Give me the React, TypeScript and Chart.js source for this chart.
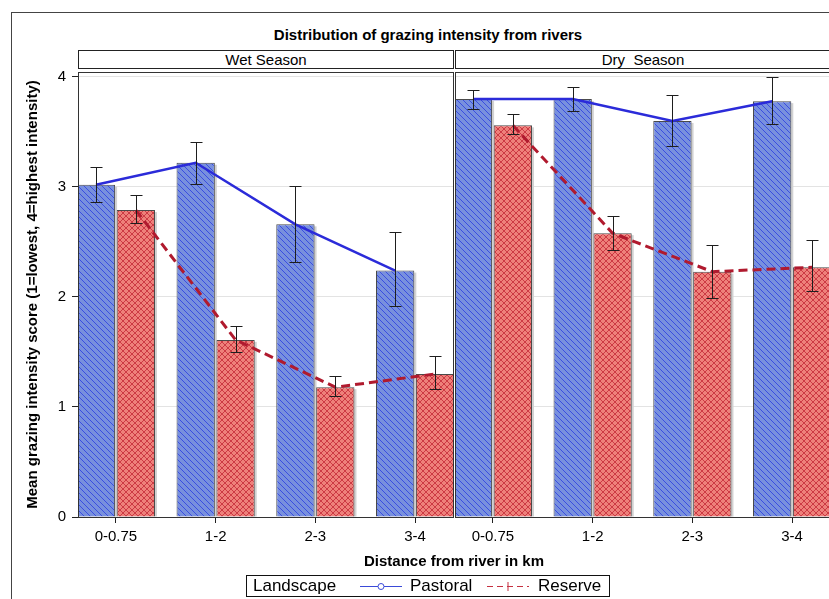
import React, { useEffect, useRef } from "react";
import { Chart, registerables } from "chart.js";

Chart.register(...registerables);

// ---------- data ----------
const categories = ["0-0.75", "1-2", "2-3", "3-4"];
const yTicks = [0, 1, 2, 3, 4];
const yMax = 4.045;

const wetPastoral = [3.02, 3.22, 2.66, 2.24];
const wetPastoralLow = [2.86, 3.03, 2.32, 1.92];
const wetPastoralHigh = [3.18, 3.41, 3.01, 2.59];
const wetReserve = [2.79, 1.61, 1.18, 1.3];
const wetReserveLow = [2.67, 1.5, 1.1, 1.16];
const wetReserveHigh = [2.93, 1.74, 1.28, 1.46];

const dryPastoral = [3.8, 3.8, 3.6, 3.78];
const dryPastoralLow = [3.71, 3.69, 3.37, 3.57];
const dryPastoralHigh = [3.88, 3.91, 3.84, 4.0];
const dryReserve = [3.56, 2.58, 2.23, 2.27];
const dryReserveLow = [3.48, 2.43, 1.99, 2.05];
const dryReserveHigh = [3.66, 2.74, 2.47, 2.52];

const titleText = "Distribution of grazing intensity from rivers";
const wetLabel = "Wet Season";
const dryLabel = "Dry  Season";
const xTitle = "Distance from river in km";
const yTitle = "Mean grazing intensity score (1=lowest, 4=highest intensity)";
const legendTitle = "Landscape";
const seriesNames = ["Pastoral", "Reserve"];

// ---------- styling ----------
const FONT = "'Liberation Sans', Arial, Helvetica, sans-serif";
const CAT_PCT = 0.8;
const BAR_PCT = 0.96;
const X_PAD = 0.38;
const BLUE_LINE = "#2b2bd9";
const RED_LINE = "#b01a2e";

function makePattern(base: string, line: string, size: number, cross: boolean) {
  const c = document.createElement("canvas");
  c.width = size;
  c.height = size;
  const g = c.getContext("2d")!;
  g.fillStyle = base;
  g.fillRect(0, 0, size, size);
  g.strokeStyle = line;
  g.lineWidth = 1;
  g.beginPath();
  g.moveTo(-1, -1);
  g.lineTo(size + 1, size + 1);
  g.moveTo(-1, size - 1);
  g.lineTo(1, size + 1);
  g.moveTo(size - 1, -1);
  g.lineTo(size + 1, 1);
  if (cross) {
    g.moveTo(-1, size + 1);
    g.lineTo(size + 1, -1);
    g.moveTo(-1, 1);
    g.lineTo(1, -1);
    g.moveTo(size - 1, size + 1);
    g.lineTo(size + 1, size - 1);
  }
  g.stroke();
  return g.createPattern(c, "repeat")!;
}

const framePlugin = {
  id: "frame",
  afterDraw(chart: any) {
    const { ctx, chartArea: a } = chart;
    ctx.save();
    ctx.strokeStyle = "#333";
    ctx.lineWidth = 1;
    ctx.strokeRect(
      Math.round(a.left) + 0.5,
      Math.round(a.top) + 0.5,
      Math.round(a.right - a.left),
      Math.round(a.bottom - a.top)
    );
    ctx.restore();
  },
};

const shadowPlugin = {
  id: "barShadow",
  beforeDatasetsDraw(chart: any) {
    const { ctx, chartArea: a } = chart;
    ctx.save();
    ctx.beginPath();
    ctx.rect(a.left, a.top, a.right - a.left, a.bottom - a.top);
    ctx.clip();
    ctx.fillStyle = "#d2d2d2";
    chart.data.datasets.forEach((ds: any, di: number) => {
      if (ds.type === "line") return;
      const meta = chart.getDatasetMeta(di);
      meta.data.forEach((el: any) => {
        const p = el.getProps(["x", "y", "base", "width"], true);
        ctx.fillRect(p.x - p.width / 2 + 2, p.y + 2, p.width, p.base - p.y - 2);
      });
    });
    ctx.restore();
  },
};

const errorBarPlugin = {
  id: "errorBars",
  afterDatasetsDraw(chart: any, _args: any, opts: any) {
    const { ctx, chartArea: a } = chart;
    const ys = chart.scales.y;
    ctx.save();
    ctx.beginPath();
    ctx.rect(a.left, a.top - 2, a.right - a.left, a.bottom - a.top + 2);
    ctx.clip();
    ctx.strokeStyle = "#1e1e1e";
    ctx.lineWidth = 1;
    (opts.sets || []).forEach((s: any) => {
      const meta = chart.getDatasetMeta(s.datasetIndex);
      meta.data.forEach((el: any, i: number) => {
        const x = Math.round(el.x) + 0.5;
        const y1 = Math.round(ys.getPixelForValue(s.low[i])) + 0.5;
        const y2 = Math.round(ys.getPixelForValue(s.high[i])) + 0.5;
        ctx.beginPath();
        ctx.moveTo(x, y1);
        ctx.lineTo(x, y2);
        ctx.moveTo(x - 6, y1);
        ctx.lineTo(x + 6, y1);
        ctx.moveTo(x - 6, y2);
        ctx.lineTo(x + 6, y2);
        ctx.stroke();
      });
    });
    ctx.restore();
  },
};

interface PanelProps {
  pastoral: number[];
  pastoralLow: number[];
  pastoralHigh: number[];
  reserve: number[];
  reserveLow: number[];
  reserveHigh: number[];
  showY: boolean;
  left: number;
  width: number;
  padLeft: number;
  padRight: number;
}

function Panel(p: PanelProps) {
  const ref = useRef<HTMLCanvasElement | null>(null);
  useEffect(() => {
    if (!ref.current) return;
    const bluePat = makePattern("#7890de", "#3a4ee0", 6, false);
    const redPat = makePattern("#ee807a", "#cc3a44", 6, true);
    const off = CAT_PCT / 4;
    const chart = new Chart(ref.current, {
      type: "bar",
      data: {
        datasets: [
          {
            type: "line",
            label: seriesNames[0],
            data: categories.map((_, i) => ({ x: i - off, y: p.pastoral[i] })),
            borderColor: BLUE_LINE,
            borderWidth: 2.5,
            pointRadius: 0,
            fill: false,
            order: 0,
          } as any,
          {
            type: "line",
            label: seriesNames[1],
            data: categories.map((_, i) => ({ x: i + off, y: p.reserve[i] })),
            borderColor: RED_LINE,
            borderWidth: 3,
            borderDash: [9, 5],
            pointRadius: 0,
            fill: false,
            order: 0,
          } as any,
          {
            type: "bar",
            label: seriesNames[0],
            data: categories.map((_, i) => ({ x: i, y: p.pastoral[i] })),
            backgroundColor: bluePat,
            borderColor: "#4a4a4a",
            borderWidth: 1,
            categoryPercentage: CAT_PCT,
            barPercentage: BAR_PCT,
            order: 1,
          } as any,
          {
            type: "bar",
            label: seriesNames[1],
            data: categories.map((_, i) => ({ x: i, y: p.reserve[i] })),
            backgroundColor: redPat,
            borderColor: "#4a4a4a",
            borderWidth: 1,
            categoryPercentage: CAT_PCT,
            barPercentage: BAR_PCT,
            order: 1,
          } as any,
        ],
      },
      options: {
        animation: false,
        responsive: false,
        maintainAspectRatio: false,
        layout: { padding: { top: 72, left: p.padLeft, right: p.padRight, bottom: 0 } },
        plugins: {
          legend: { display: false },
          tooltip: { enabled: false },
          errorBars: {
            sets: [
              { datasetIndex: 2, low: p.pastoralLow, high: p.pastoralHigh },
              { datasetIndex: 3, low: p.reserveLow, high: p.reserveHigh },
            ],
          },
        } as any,
        scales: {
          x: {
            type: "linear",
            min: -X_PAD,
            max: categories.length - 1 + X_PAD,
            offset: false,
            afterBuildTicks: (s: any) => {
              s.ticks = categories.map((_, i) => ({ value: i }));
            },
            afterFit: (s: any) => {
              s.height = 43;
            },
            ticks: {
              autoSkip: false,
              maxRotation: 0,
              padding: 5,
              color: "#000",
              font: { family: FONT, size: 15 },
              callback: (_v: any, i: number) => categories[i],
            },
            grid: {
              offset: false,
              drawOnChartArea: false,
              drawTicks: true,
              tickLength: 6,
              tickColor: "#222",
            },
            border: { display: false },
          } as any,
          y: {
            type: "linear",
            min: 0,
            max: yMax,
            display: true,
            afterBuildTicks: (s: any) => {
              s.ticks = yTicks.map((v) => ({ value: v }));
            },
            afterFit: (s: any) => {
              s.width = p.showY ? 78 : 0;
            },
            ticks: {
              display: p.showY,
              padding: 6,
              color: "#000",
              font: { family: FONT, size: 15 },
            },
            grid: {
              color: "#e3e3e3",
              drawTicks: p.showY,
              tickLength: 6,
              tickColor: "#222",
            },
            border: { display: false },
            title: {
              display: p.showY,
              text: yTitle,
              color: "#000",
              font: { family: FONT, size: 15, weight: "bold" },
              padding: { top: 24, bottom: 0 },
            },
          } as any,
        },
      },
      plugins: [shadowPlugin, errorBarPlugin, framePlugin],
    });
    return () => chart.destroy();
  }, []);
  return (
    <canvas
      ref={ref}
      width={p.width}
      height={560}
      style={{ position: "absolute", left: p.left, top: 0, width: p.width, height: 560 }}
    />
  );
}

const textBase: React.CSSProperties = {
  position: "absolute",
  fontFamily: FONT,
  color: "#000",
  whiteSpace: "pre",
};

export default function App() {
  return (
    <div
      style={{
        position: "absolute",
        left: 0,
        top: 0,
        width: 829,
        height: 599,
        overflow: "hidden",
        background: "#fff",
      }}
    >
      <div
        style={{
          position: "absolute",
          left: 11,
          top: 12,
          width: 900,
          height: 700,
          border: "1px solid #444",
          boxSizing: "border-box",
        }}
      />
      <div
        style={{
          ...textBase,
          left: 128,
          width: 600,
          top: 26,
          height: 18,
          lineHeight: "18px",
          fontSize: 15,
          fontWeight: "bold",
          textAlign: "center",
        }}
      >
        {titleText}
      </div>
      <div
        style={{
          ...textBase,
          left: 78,
          top: 50,
          width: 376,
          height: 19,
          lineHeight: "17px",
          fontSize: 15,
          textAlign: "center",
          border: "1px solid #222",
          boxSizing: "border-box",
        }}
      >
        {wetLabel}
      </div>
      <div
        style={{
          ...textBase,
          left: 455,
          top: 50,
          width: 376,
          height: 19,
          lineHeight: "17px",
          fontSize: 15,
          textAlign: "center",
          border: "1px solid #222",
          boxSizing: "border-box",
        }}
      >
        {dryLabel}
      </div>
      <Panel
        pastoral={wetPastoral}
        pastoralLow={wetPastoralLow}
        pastoralHigh={wetPastoralHigh}
        reserve={wetReserve}
        reserveLow={wetReserveLow}
        reserveHigh={wetReserveHigh}
        showY={true}
        left={0}
        width={455}
        padLeft={0}
        padRight={2}
      />
      <Panel
        pastoral={dryPastoral}
        pastoralLow={dryPastoralLow}
        pastoralHigh={dryPastoralHigh}
        reserve={dryReserve}
        reserveLow={dryReserveLow}
        reserveHigh={dryReserveHigh}
        showY={false}
        left={453}
        width={382}
        padLeft={2}
        padRight={5}
      />
      <div
        style={{
          ...textBase,
          left: 154,
          width: 600,
          top: 552,
          height: 18,
          lineHeight: "18px",
          fontSize: 15,
          fontWeight: "bold",
          textAlign: "center",
        }}
      >
        {xTitle}
      </div>
      <div
        style={{
          position: "absolute",
          left: 246,
          top: 575,
          width: 364,
          height: 22,
          border: "1px solid #111",
          boxSizing: "border-box",
          fontFamily: FONT,
          fontSize: 17,
        }}
      >
        <span style={{ ...textBase, left: 6, top: 0, lineHeight: "19px" }}>{legendTitle}</span>
        <svg style={{ position: "absolute", left: 113, top: 4, width: 42, height: 12 }} width={42} height={12}>
          <line x1={0} y1={6.5} x2={42} y2={6.5} stroke="#3a4ad8" strokeWidth={1} />
          <circle cx={21} cy={6.5} r={3} fill="#fff" stroke="#3a4ad8" strokeWidth={1} />
        </svg>
        <span style={{ ...textBase, left: 163, top: 0, lineHeight: "19px" }}>{seriesNames[0]}</span>
        <svg style={{ position: "absolute", left: 240, top: 4, width: 42, height: 12 }} width={42} height={12}>
          <line x1={0} y1={6.5} x2={42} y2={6.5} stroke="#c53040" strokeWidth={1} strokeDasharray="6,4" />
          <line x1={21} y1={2} x2={21} y2={11} stroke="#c53040" strokeWidth={1} />
        </svg>
        <span style={{ ...textBase, left: 291, top: 0, lineHeight: "19px" }}>{seriesNames[1]}</span>
      </div>
    </div>
  );
}
